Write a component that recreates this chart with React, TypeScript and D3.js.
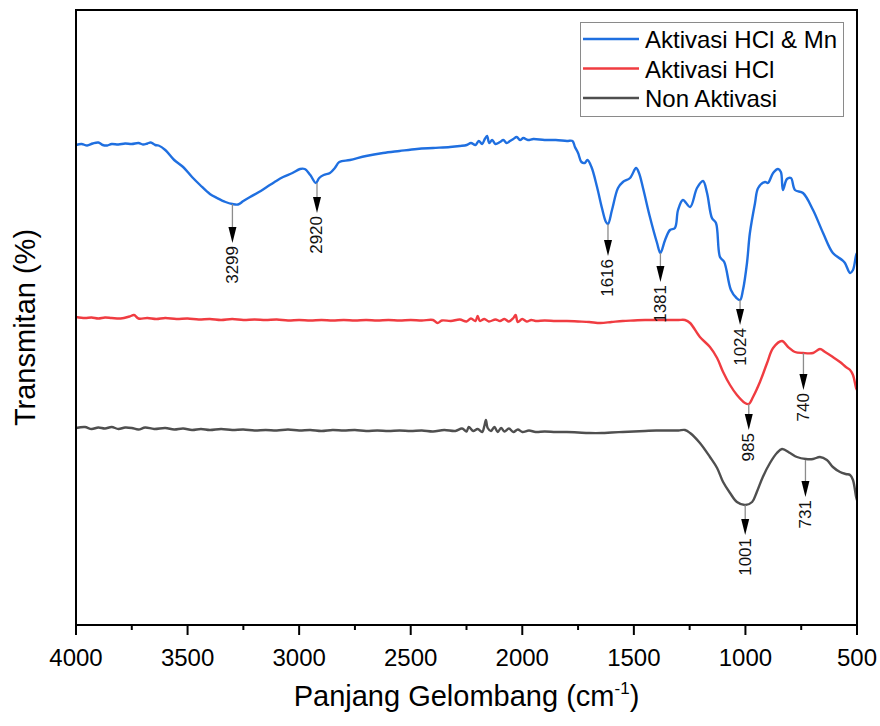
import { useMemo } from 'react'
import * as d3 from 'd3'

// FTIR spectra — three samples, x = wavenumber (cm-1), y = transmittance (a.u.)
const W = 880
const H = 726
const M = { left: 76, right: 857, top: 10, bottom: 625 }

const X_TICKS = [4000, 3500, 3000, 2500, 2000, 1500, 1000, 500]
const X_MINOR = [3750, 3250, 2750, 2250, 1750, 1250, 750]

const SERIES_NAMES = ['Aktivasi HCl & Mn', 'Aktivasi HCl', 'Non Aktivasi']
const SERIES_COLORS = ['#1f6fe0', '#f03c41', '#4f4f4f']

const blueSpectrum: [number, number][] = [
  [4000, 96.0], [3975, 96.2], [3950, 95.9], [3925, 96.3], [3900, 96.5], [3880, 96.0],
  [3860, 95.9], [3840, 96.2], [3810, 96.1], [3780, 96.3], [3750, 96.2], [3720, 96.4],
  [3700, 96.1], [3680, 96.3], [3665, 96.5], [3645, 96.0], [3630, 95.9], [3600, 95.0],
  [3560, 93.0], [3520, 91.6], [3480, 89.6], [3444, 88.0], [3400, 86.2], [3368, 85.4],
  [3330, 84.6], [3299, 84.2], [3274, 84.1], [3250, 84.8], [3220, 85.6], [3180, 86.6],
  [3145, 87.6], [3110, 88.6], [3072, 89.6], [3030, 90.4], [2996, 91.2], [2975, 91.2],
  [2950, 90.0], [2925, 88.4], [2910, 89.4], [2890, 90.0], [2862, 90.4], [2840, 91.4],
  [2820, 92.6], [2772, 93.0], [2700, 93.8], [2624, 94.4], [2550, 94.8], [2472, 95.2],
  [2400, 95.4], [2324, 95.6], [2280, 95.8], [2249, 96.0], [2230, 96.4], [2210, 96.0],
  [2195, 96.8], [2180, 96.2], [2168, 97.2], [2158, 97.8], [2148, 96.4], [2135, 97.0],
  [2120, 96.2], [2100, 96.6], [2085, 97.0], [2070, 96.4], [2055, 96.8], [2040, 97.2],
  [2025, 97.6], [2010, 97.0], [1995, 97.4], [1975, 97.0], [1950, 97.2], [1900, 97.0],
  [1850, 97.0], [1800, 96.8], [1775, 96.8], [1764, 95.6], [1750, 94.4], [1735, 92.6],
  [1720, 92.4], [1708, 93.0], [1690, 91.6], [1665, 87.6], [1643, 83.4], [1625, 80.6],
  [1616, 80.2], [1598, 83.0], [1571, 87.4], [1549, 88.6], [1517, 89.4], [1490, 91.4],
  [1477, 90.4], [1459, 87.4], [1428, 81.6], [1396, 76.4], [1381, 74.4], [1360, 77.0],
  [1338, 79.0], [1316, 79.4], [1302, 83.0], [1280, 85.0], [1248, 83.6], [1217, 87.4],
  [1190, 88.8], [1172, 86.4], [1150, 81.4], [1132, 80.4], [1114, 73.6], [1095, 72.6],
  [1065, 67.0], [1040, 65.4], [1024, 65.0], [1011, 67.0], [993, 72.4], [980, 78.4],
  [957, 84.4], [943, 87.4], [912, 88.6], [899, 88.4], [876, 90.4], [854, 91.2],
  [841, 90.6], [832, 87.0], [814, 89.2], [796, 89.4], [778, 87.0], [742, 86.4],
  [697, 83.0], [652, 78.4], [608, 74.4], [567, 73.0], [554, 72.4], [531, 70.4],
  [518, 71.0], [504, 74.0], [500, 74.4],
]

const redSpectrum: [number, number][] = [
  [4000, 61.6], [3960, 61.4], [3930, 61.5], [3900, 61.3], [3870, 61.5], [3840, 61.4],
  [3800, 61.3], [3760, 61.7], [3740, 62.0], [3720, 61.3], [3680, 61.4], [3640, 61.2],
  [3600, 61.4], [3550, 61.2], [3500, 61.3], [3450, 61.1], [3400, 61.2], [3350, 61.0],
  [3300, 61.2], [3250, 61.0], [3200, 61.1], [3150, 61.0], [3100, 61.1], [3050, 60.9],
  [3000, 61.0], [2950, 60.9], [2900, 61.0], [2850, 60.9], [2800, 61.0], [2750, 60.9],
  [2700, 61.0], [2650, 60.9], [2600, 61.0], [2550, 60.9], [2500, 61.0], [2450, 60.9],
  [2400, 61.0], [2380, 60.4], [2360, 60.9], [2320, 60.8], [2280, 61.1], [2250, 60.7],
  [2230, 61.3], [2210, 60.8], [2200, 61.8], [2190, 60.8], [2170, 61.2], [2150, 60.7],
  [2120, 61.1], [2100, 60.8], [2080, 61.2], [2060, 60.7], [2040, 61.4], [2030, 62.0],
  [2020, 60.6], [2000, 61.2], [1980, 60.7], [1960, 61.0], [1940, 60.8], [1900, 60.9],
  [1850, 60.8], [1800, 60.8], [1750, 60.7], [1700, 60.6], [1650, 60.4], [1600, 60.6],
  [1550, 60.8], [1500, 60.9], [1450, 61.0], [1400, 61.0], [1350, 61.0], [1300, 61.0],
  [1271, 61.0], [1248, 60.4], [1204, 57.6], [1159, 55.6], [1127, 53.4], [1100, 50.6],
  [1069, 48.0], [1038, 46.0], [1002, 44.4], [985, 44.2], [966, 45.6], [935, 48.6],
  [903, 52.4], [876, 55.4], [836, 56.8], [809, 55.6], [778, 54.6], [742, 54.4],
  [697, 54.4], [666, 55.2], [643, 54.6], [608, 53.6], [576, 52.6], [550, 51.6],
  [531, 51.0], [518, 50.0], [504, 47.4], [500, 47.0],
]

const graySpectrum: [number, number][] = [
  [4000, 39.4], [3960, 39.6], [3930, 39.2], [3900, 39.5], [3870, 39.3], [3840, 39.6],
  [3810, 39.2], [3780, 39.5], [3750, 39.4], [3720, 39.1], [3690, 39.5], [3650, 39.2],
  [3600, 39.4], [3560, 39.1], [3520, 39.3], [3480, 39.0], [3440, 39.2], [3400, 39.0],
  [3350, 39.2], [3300, 39.0], [3250, 39.1], [3200, 38.9], [3150, 39.0], [3100, 38.9],
  [3050, 39.1], [3000, 38.9], [2950, 39.0], [2900, 38.8], [2850, 39.0], [2800, 38.9],
  [2750, 39.0], [2700, 38.8], [2650, 38.9], [2600, 38.8], [2550, 38.9], [2500, 38.8],
  [2450, 38.9], [2400, 38.7], [2350, 39.0], [2300, 38.8], [2270, 39.3], [2250, 38.7],
  [2240, 39.6], [2220, 38.8], [2200, 39.2], [2180, 38.6], [2170, 39.8], [2163, 41.0],
  [2155, 39.4], [2140, 38.8], [2125, 39.6], [2110, 38.6], [2095, 39.4], [2080, 38.7],
  [2060, 39.3], [2040, 38.6], [2020, 39.1], [2000, 38.6], [1970, 38.9], [1940, 38.6],
  [1900, 38.7], [1850, 38.6], [1800, 38.6], [1750, 38.5], [1700, 38.4], [1643, 38.4],
  [1600, 38.5], [1550, 38.6], [1500, 38.7], [1450, 38.8], [1400, 38.9], [1350, 38.9],
  [1300, 38.9], [1271, 39.0], [1248, 38.4], [1204, 36.4], [1159, 33.6], [1127, 31.4],
  [1100, 28.6], [1069, 26.4], [1038, 24.6], [1001, 24.0], [970, 24.6], [949, 26.6],
  [922, 29.6], [890, 32.4], [859, 34.4], [836, 35.2], [800, 34.4], [769, 33.6],
  [729, 33.2], [697, 33.2], [666, 33.6], [635, 33.0], [608, 31.6], [576, 30.6],
  [550, 30.2], [531, 30.0], [518, 29.0], [504, 25.6], [500, 25.0],
]

// peak markers: wavenumber, label, value where the arrow starts, value at the arrow tip
const PEAKS: [number, string, number, number][] = [
  [3299, '3299', 84.2, 76.4],
  [2920, '2920', 88.4, 82.4],
  [1616, '1616', 80.2, 73.8],
  [1381, '1381', 74.4, 68.6],
  [1024, '1024', 65.0, 60.0],
  [985, '985', 44.2, 39.0],
  [740, '740', 54.4, 47.0],
  [1001, '1001', 24.0, 18.0],
  [731, '731', 33.0, 25.6],
]

const FONT = '"Liberation Sans", Arial, Helvetica, sans-serif'

export default function App() {
  const x = useMemo(() => d3.scaleLinear().domain([4000, 500]).range([M.left, M.right]), [])
  const y = useMemo(() => d3.scaleLinear().domain([0, 123]).range([M.bottom, M.top]), [])

  const line = d3.line<[number, number]>()
    .x((d) => x(d[0]))
    .y((d) => y(d[1]))
    .curve(d3.curveCatmullRom.alpha(0.5))

  const spectra = [blueSpectrum, redSpectrum, graySpectrum]

  return (
    <svg width={W} height={H} style={{ position: 'absolute', left: 0, top: 0, background: '#fff' }} fontFamily={FONT}>
      {/* spectra */}
      {spectra.map((s, i) => (
        <path key={i} d={line(s) ?? ''} fill="none" stroke={SERIES_COLORS[i]} strokeWidth={2.4} strokeLinejoin="round" />
      ))}

      {/* peak arrows */}
      {PEAKS.map(([wn, label, v0, v1]) => {
        const px = x(wn)
        const y0 = y(v0)
        const tip = y(v1)
        const headH = 16
        return (
          <g key={label}>
            <line x1={px} x2={px} y1={y0} y2={tip - headH} stroke="#8c8c8c" strokeWidth={1.3} />
            <path d={`M${px - 4},${tip - headH}L${px + 4},${tip - headH}L${px},${tip}Z`} fill="#000" />
            <text
              transform={`translate(${px},${tip + 3}) rotate(-90)`}
              textAnchor="end"
              dominantBaseline="central"
              fontSize={17}
              fill="#111"
            >
              {label}
            </text>
          </g>
        )
      })}

      {/* frame */}
      <rect x={M.left} y={M.top} width={M.right - M.left} height={M.bottom - M.top} fill="none" stroke="#000" strokeWidth={2} />

      {/* bottom ticks */}
      {X_TICKS.map((t) => (
        <g key={t}>
          <line x1={x(t)} x2={x(t)} y1={M.bottom} y2={M.bottom + 10} stroke="#000" strokeWidth={2} />
          <text x={x(t)} y={M.bottom + 41} textAnchor="middle" fontSize={24} fill="#000">{t}</text>
        </g>
      ))}
      {X_MINOR.map((t) => (
        <line key={t} x1={x(t)} x2={x(t)} y1={M.bottom} y2={M.bottom + 5} stroke="#000" strokeWidth={2} />
      ))}

      {/* axis titles */}
      <text x={(M.left + M.right) / 2} y={706} textAnchor="middle" fontSize={29} fill="#000">
        Panjang Gelombang (cm<tspan fontSize={17} dy={-12}>-1</tspan><tspan dy={12}>)</tspan>
      </text>
      <text transform={`translate(35,${(M.top + M.bottom) / 2 + 10}) rotate(-90)`} textAnchor="middle" fontSize={29} fill="#000">
        Transmitan (%)
      </text>

      {/* legend */}
      <rect x={580.5} y={22.5} width={263} height={94} fill="#fff" stroke="#8a8a8a" strokeWidth={1} />
      {SERIES_NAMES.map((name, i) => (
        <g key={name}>
          <line x1={583} x2={639} y1={39 + i * 29.5} y2={39 + i * 29.5} stroke={SERIES_COLORS[i]} strokeWidth={2.6} />
          <text x={645} y={48 + i * 29.5} fontSize={24} fill="#000">{name}</text>
        </g>
      ))}
    </svg>
  )
}
